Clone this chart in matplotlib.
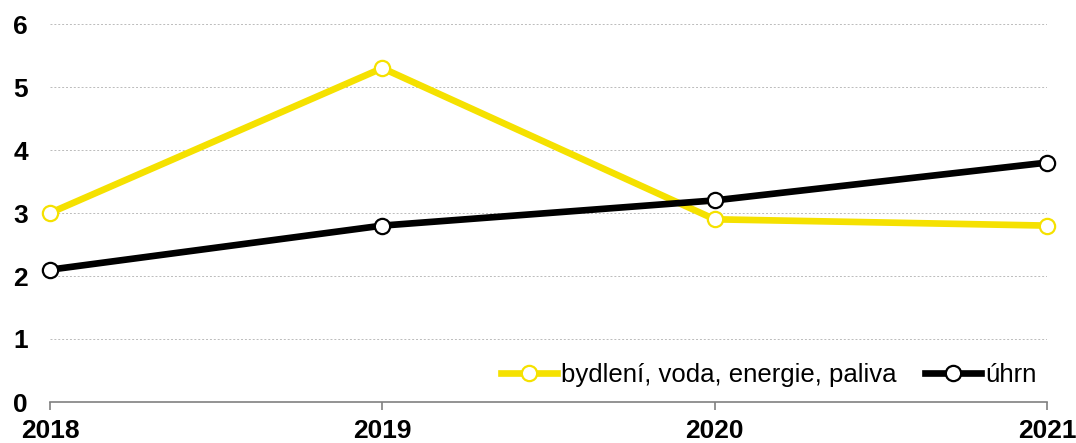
import matplotlib.pyplot as plt

plt.rcParams['font.family'] = ['Liberation Sans', 'DejaVu Sans']

years = ['2018', '2019', '2020', '2021']
bydleni = [3.0, 5.3, 2.9, 2.8]
uhrn = [2.1, 2.8, 3.2, 3.8]

yellow = '#F5E100'

fig = plt.figure(figsize=(10.76, 4.43), dpi=100)
ax = fig.add_axes([50 / 1076, 41 / 443, 997 / 1076, 378 / 443])

x = range(len(years))
ax.plot(x, bydleni, color=yellow, lw=4.8, marker='o', ms=11, mfc='white',
        mec=yellow, mew=1.6, label='bydlení, voda, energie, paliva', zorder=3,
        clip_on=False)
ax.plot(x, uhrn, color='black', lw=4.8, marker='o', ms=11, mfc='white',
        mec='black', mew=1.6, label='úhrn', zorder=4, clip_on=False)

ax.set_xlim(0, 3)
ax.set_ylim(0, 6)
ax.set_yticks(range(7))
ax.set_xticks(list(x))
ax.set_xticklabels(years)
ax.grid(axis='y', color='#bbbbbb', linestyle=(0, (2, 2)), lw=0.7)
ax.set_axisbelow(True)

for s in ['top', 'right', 'left']:
    ax.spines[s].set_visible(False)
ax.spines['bottom'].set_color('#808080')
ax.spines['bottom'].set_linewidth(1.2)
ax.tick_params(axis='x', length=6, color='#808080', width=1.2, pad=6.5)
ax.tick_params(axis='y', length=0, pad=16)
for lab in ax.get_xticklabels() + ax.get_yticklabels():
    lab.set_fontsize(19)
    lab.set_fontweight('bold')

ax.legend(loc='lower right', bbox_to_anchor=(1.0, 0.012), ncol=2, frameon=False,
          fontsize=18.5, handlelength=2.2, handletextpad=0.15, columnspacing=1.1,
          borderaxespad=0.0)

plt.savefig('out.png', dpi=100)
